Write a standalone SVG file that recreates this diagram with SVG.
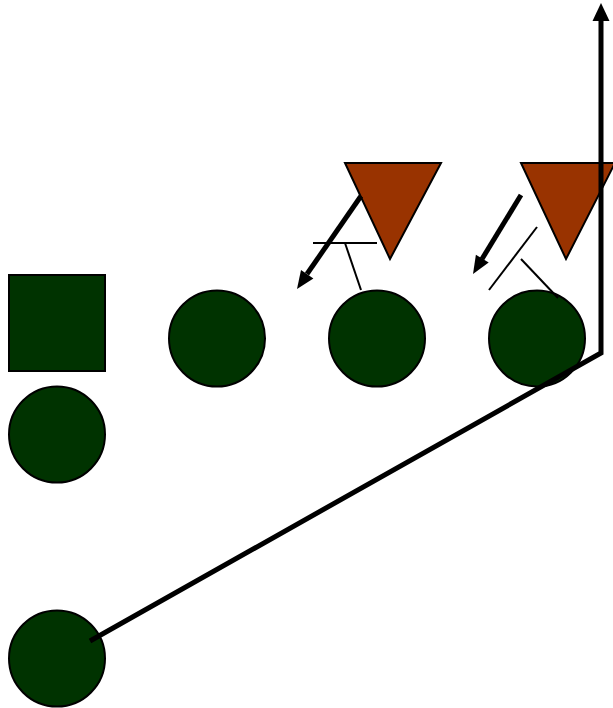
<svg xmlns="http://www.w3.org/2000/svg" width="613" height="708" viewBox="0 0 613 708">
<style>
.o{fill:#003300;stroke:#000;stroke-width:2}
.d{fill:#993300;stroke:#000;stroke-width:2}
.thick{stroke:#000;stroke-width:5;fill:none}
.thin{stroke:#000;stroke-width:2;fill:none}
.head{fill:#000}
</style>
<rect width="613" height="708" fill="#fff"/>
<g id="d1"><polygon class="d" points="345,163 441,163 390,259"/></g>
<g id="d2"><polygon class="d" points="521,163 615,163 566,259"/></g>
<g id="sq"><rect class="o" x="9" y="275" width="96" height="96"/></g>
<g id="c1"><circle class="o" cx="217" cy="338.5" r="48"/></g>
<g id="c2"><circle class="o" cx="377" cy="338.5" r="48"/></g>
<g id="c3"><circle class="o" cx="537" cy="338.5" r="48"/></g>
<g id="c4"><circle class="o" cx="57" cy="434.5" r="48"/></g>
<g id="c5"><circle class="o" cx="57" cy="658.5" r="48"/></g>
<g id="connectors">
<line class="thin" x1="313" y1="243" x2="377" y2="243"/>
<line class="thin" x1="345" y1="243" x2="361" y2="290"/>
<line class="thin" x1="537" y1="227" x2="489" y2="290"/>
<line class="thin" x1="521" y1="259" x2="558" y2="298"/>
<line class="thick" x1="361" y1="196" x2="307" y2="274"/>
<polygon class="head" points="297,289 313.4,278.4 301,270"/>
<line class="thick" x1="521" y1="195" x2="482" y2="259"/>
<polygon class="head" points="473,274 488.7,262.5 475.9,254.7"/>
<polyline class="thick" points="90,641 601,353 601,20"/>
<polygon class="head" points="592.5,21 601,3 609.5,21"/>
</g>
</svg>
